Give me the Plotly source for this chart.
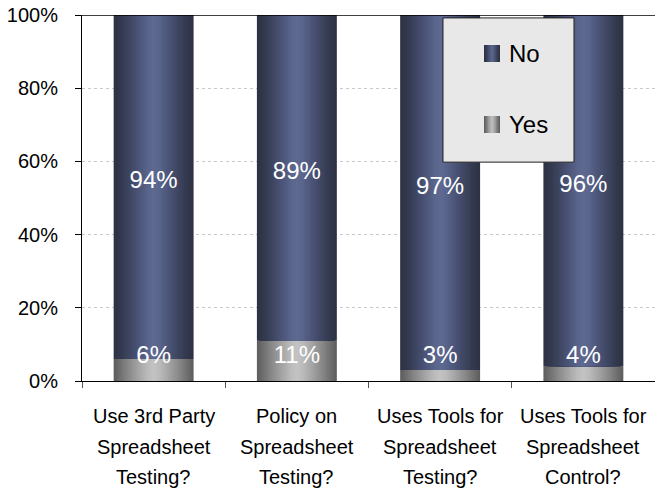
import plotly.graph_objects as go

# Survey questions and the share of answers (percent)
categories = [
    "Use 3rd Party<br>Spreadsheet<br>Testing?",
    "Policy on<br>Spreadsheet<br>Testing?",
    "Uses Tools for<br>Spreadsheet<br>Testing?",
    "Uses Tools for<br>Spreadsheet<br>Control?",
]
yes_values = [6, 11, 3, 4]
no_values = [94, 89, 97, 96]
y_ticks = [0, 20, 40, 60, 80, 100]

FONT = "Liberation Sans, Arial, sans-serif"
BAR_WIDTH = 0.558
LAYERS = 22

# Shading from the bar edge (0) to its middle (0.5)
navy_stops = [(0.0, "#2d3244"), (0.1, "#353b51"), (0.28, "#495274"),
              (0.42, "#5a658c"), (0.5, "#5f6a93")]
gray_stops = [(0.0, "#5f5f5f"), (0.12, "#7c7c7c"), (0.3, "#a4a4a4"),
              (0.42, "#bcbcbc"), (0.5, "#c4c4c4")]


def hex_rgb(h):
    h = h.lstrip("#")
    return tuple(int(h[i:i + 2], 16) for i in (0, 2, 4))


def shade(stops, t):
    for (t0, c0), (t1, c1) in zip(stops, stops[1:]):
        if t <= t1:
            f = (t - t0) / (t1 - t0) if t1 > t0 else 0
            a, b = hex_rgb(c0), hex_rgb(c1)
            return "rgb({},{},{})".format(*[round(a[k] + (b[k] - a[k]) * f) for k in range(3)])
    return stops[-1][1]


fig = go.Figure()

yes_base = [0] * len(yes_values)
no_base = list(yes_values)

# Each segment is a stack of nested, progressively narrower and lighter bars
for values, bases, stops, name in [(yes_values, yes_base, gray_stops, "Yes"),
                                   (no_values, no_base, navy_stops, "No")]:
    for k in range(LAYERS):
        frac = 1 - k / LAYERS
        t = 0.5 * k / LAYERS
        fig.add_trace(go.Bar(
            x=categories, y=values, base=bases, name=name,
            width=BAR_WIDTH * frac,
            marker=dict(color=shade(stops, t), line=dict(width=0)),
            showlegend=False, hoverinfo="skip",
        ))

# Value labels
fig.add_trace(go.Scatter(
    x=categories, y=[b + v / 2 + 1.3 for b, v in zip(no_base, no_values)],
    mode="text", text=[f"{v}%" for v in no_values],
    textfont=dict(family=FONT, size=24, color="white"),
    showlegend=False, hoverinfo="skip",
))
fig.add_trace(go.Scatter(
    x=categories, y=[6.6] * len(yes_values),
    mode="text", text=[f"{v}%" for v in yes_values],
    textfont=dict(family=FONT, size=24, color="white"),
    showlegend=False, hoverinfo="skip",
))

shapes = [dict(type="line", xref="paper", yref="y", x0=0, x1=1, y0=100, y1=100,
               line=dict(color="black", width=1.3), layer="above")]

# Category labels, one line at a time
annotations = []
for cat in categories:
    for j, line in enumerate(cat.split("<br>")):
        annotations.append(dict(text=line, x=cat, xref="x", y=0, yref="paper",
                                xanchor="center", yanchor="middle", yshift=-35 - 30.5 * j,
                                showarrow=False, font=dict(family=FONT, size=20, color="black")))

# Legend box with shaded swatches
plot_w, plot_h = 573.0, 366.0
shapes.append(dict(type="rect", xref="paper", yref="paper", x0=0.630, x1=0.8586,
                   y0=0.598, y1=0.992, fillcolor="#e8e8e8",
                   line=dict(color="#222222", width=1), layer="above"))
sw_x0 = (484 - 82) / plot_w
sw_x1 = (500 - 82) / plot_w
legend_items = [("No", navy_stops, 45, 62), ("Yes", gray_stops, 116, 133)]
n_sw = 6
for label, stops, top, bot in legend_items:
    for k in range(n_sw):
        frac = 1 - k / n_sw
        t = 0.5 * k / n_sw
        mid = (sw_x0 + sw_x1) / 2
        half = (sw_x1 - sw_x0) / 2 * frac
        shapes.append(dict(type="rect", xref="paper", yref="paper", x0=mid - half, x1=mid + half,
                           y0=(381 - bot) / plot_h, y1=(381 - top) / plot_h,
                           fillcolor=shade(stops, t), line=dict(width=0), layer="above"))
    annotations.append(dict(text=label, xref="paper", yref="paper",
                            x=(507 - 82) / plot_w, y=(381 - (top + bot) / 2) / plot_h,
                            xanchor="left", yanchor="middle", showarrow=False,
                            font=dict(family=FONT, size=24, color="black")))

fig.update_layout(
    width=655, height=490,
    margin=dict(l=82, r=0, t=15, b=109),
    barmode="overlay",
    paper_bgcolor="white", plot_bgcolor="white",
    font=dict(family=FONT, size=20, color="black"),
    shapes=shapes, annotations=annotations,
    showlegend=False,
)
fig.update_xaxes(
    categoryorder="array", categoryarray=categories,
    showline=True, linecolor="black", linewidth=1,
    ticks="outside", tickson="boundaries", ticklen=6, tickcolor="#555555",
    showticklabels=False, showgrid=False, fixedrange=True,
)
fig.update_yaxes(
    range=[0, 100], tickvals=y_ticks, ticktext=[f"{v}%" for v in y_ticks],
    showline=True, linecolor="black", linewidth=1,
    ticks="outside", ticklen=6, tickcolor="black",
    tickfont=dict(family=FONT, size=20, color="black"),
    ticklabelstandoff=13,
    showgrid=True, gridcolor="#c8c8c8", griddash="dot", gridwidth=1,
    zeroline=False, fixedrange=True,
)

fig.write_html("out.html")
